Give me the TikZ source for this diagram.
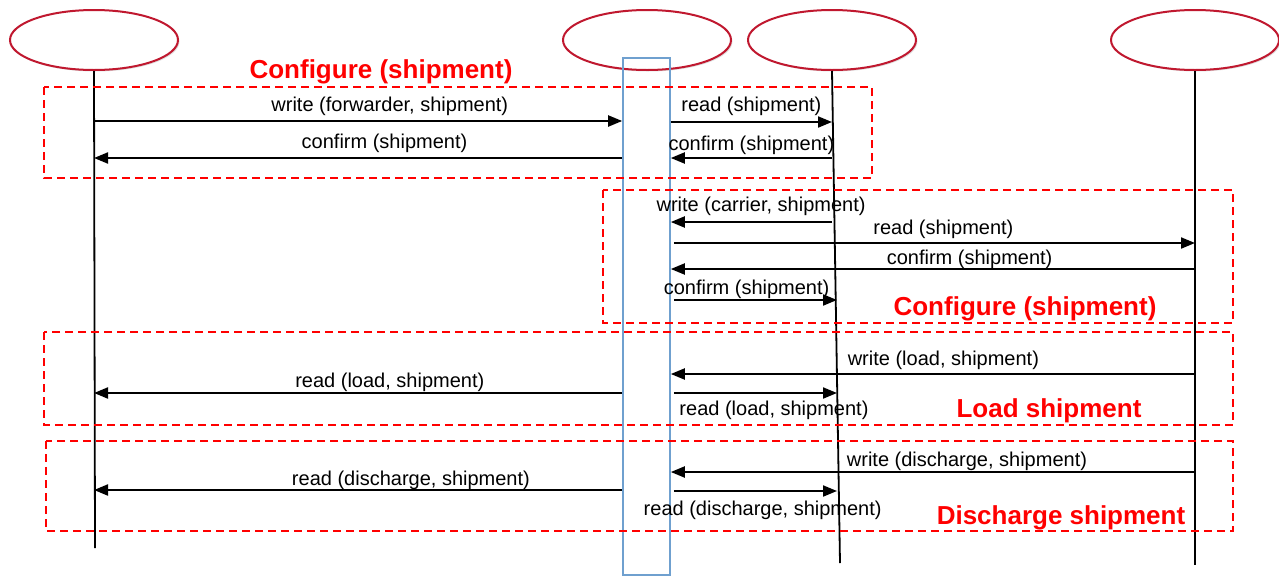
\documentclass[tikz,border=0pt]{standalone}
\usepackage{fontspec}
\setmainfont{Liberation Sans}
\usetikzlibrary{positioning, arrows.meta, shapes.geometric, shadows}
\definecolor{actorred}{HTML}{C0182F}
\definecolor{framered}{HTML}{FF0000}
\definecolor{busblue}{HTML}{6FA0CF}

\begin{document}
\begin{tikzpicture}[x=1pt, y=-1pt,
    actor/.style={ellipse, draw=actorred, line width=2pt, fill=white,
                  minimum width=168pt, minimum height=60pt,
                  drop shadow={opacity=0.25, shadow xshift=1.5pt, shadow yshift=-1.5pt}},
    lifeline/.style={line width=1.8pt},
    msg/.style={line width=2pt, -{Triangle[length=14pt, width=11pt]}},
    frame/.style={draw=framered, line width=1.8pt, dash pattern=on 8pt off 5pt},
    phase/.style={text=framered, font=\fontsize{26}{30}\selectfont\bfseries},
    lbl/.style={inner sep=0pt, font=\fontsize{20}{24}\selectfont}]
  \useasboundingbox (0,0) rectangle (1279,576);

  % actors
  \node[actor] (forwarder) at (94,40) {};
  \node[actor] (ledger) at (647,40) {};
  \node[actor] (carrier) at (832,40) {};
  \node[actor] (terminal) at (1195,40) {};

  % lifelines
  \coordinate (forwarder end) at (95,548);
  \coordinate (carrier end) at (840,563);
  \coordinate (terminal end) at (1195,565);
  \draw[lifeline] (forwarder.south) -- (forwarder end);
  \draw[lifeline] (carrier.south) -- (carrier end);
  \draw[lifeline] (terminal.south) -- (terminal end);
  \node[draw=busblue, line width=1.6pt, minimum width=47pt, minimum height=517pt,
        inner sep=0pt] (bus) at (646.5,316.5) {};

  % phases
  \draw[frame] (44,87) rectangle (872,178);
  \draw[frame] (603,190) rectangle (1233,323);
  \draw[frame] (44,332) rectangle (1233,425);
  \draw[frame] (46,441) rectangle (1233,531);
  \node[phase] (cfgA) at (381,72) {Configure (shipment)};
  \node[phase] (cfgB) at (1025,309) {Configure (shipment)};
  \node[phase] (loadtitle) at (1049,411) {Load shipment};
  \node[phase] (dischargetitle) at (1061,518) {Discharge shipment};

  % messages
  \draw[msg] (forwarder |- 0,121) -- (bus.west |- 0,121)
    node[lbl, pos=0.56, above=4pt] {write (forwarder, shipment)};
  \draw[msg] (bus.west |- 0,158) -- (forwarder |- 0,158)
    node[lbl, pos=0.45, above=4pt] {confirm (shipment)};
  \draw[msg] (bus.east |- 0,122) -- (carrier |- 0,122)
    node[lbl, midway, above=5pt] {read (shipment)};
  \draw[msg] (carrier |- 0,158) -- (bus.east |- 0,158)
    node[lbl, midway, above=2pt] {confirm (shipment)};

  \draw[msg] (carrier |- 0,222) -- (bus.east |- 0,222)
    node[lbl, pos=0.44, above=5pt] {write (carrier, shipment)};
  \draw[msg, shorten <=3pt] (bus.east |- 0,243) -- (terminal |- 0,243)
    node[lbl, pos=0.52, above=3pt] {read (shipment)};
  \draw[msg] (terminal |- 0,269) -- (bus.east |- 0,269)
    node[lbl, pos=0.43, above=-1pt] {confirm (shipment)};
  \draw[msg, shorten <=3pt, shorten >=-5pt] (bus.east |- 0,300) -- (carrier |- 0,300)
    node[lbl, pos=0.47, above=0pt] {confirm (shipment)};

  \draw[msg] (terminal |- 0,374) -- (bus.east |- 0,374)
    node[lbl, pos=0.48, above=3pt] {write (load, shipment)};
  \draw[msg] (bus.west |- 0,393) -- (forwarder |- 0,393)
    node[lbl, pos=0.44, above=0pt] {read (load, shipment)};
  \draw[msg, shorten <=3pt, shorten >=-5pt] (bus.east |- 0,393) -- (carrier |- 0,393)
    node[lbl, pos=0.64, below=7pt] {read (load, shipment)};

  \draw[msg] (terminal |- 0,472) -- (bus.east |- 0,472)
    node[lbl, pos=0.435, above=0pt] {write (discharge, shipment)};
  \draw[msg] (bus.west |- 0,490) -- (forwarder |- 0,490)
    node[lbl, pos=0.40, above=-1pt] {read (discharge, shipment)};
  \draw[msg, shorten <=3pt, shorten >=-5pt] (bus.east |- 0,491) -- (carrier |- 0,491)
    node[lbl, pos=0.57, below=9pt] {read (discharge, shipment)};
\end{tikzpicture}
\end{document}
